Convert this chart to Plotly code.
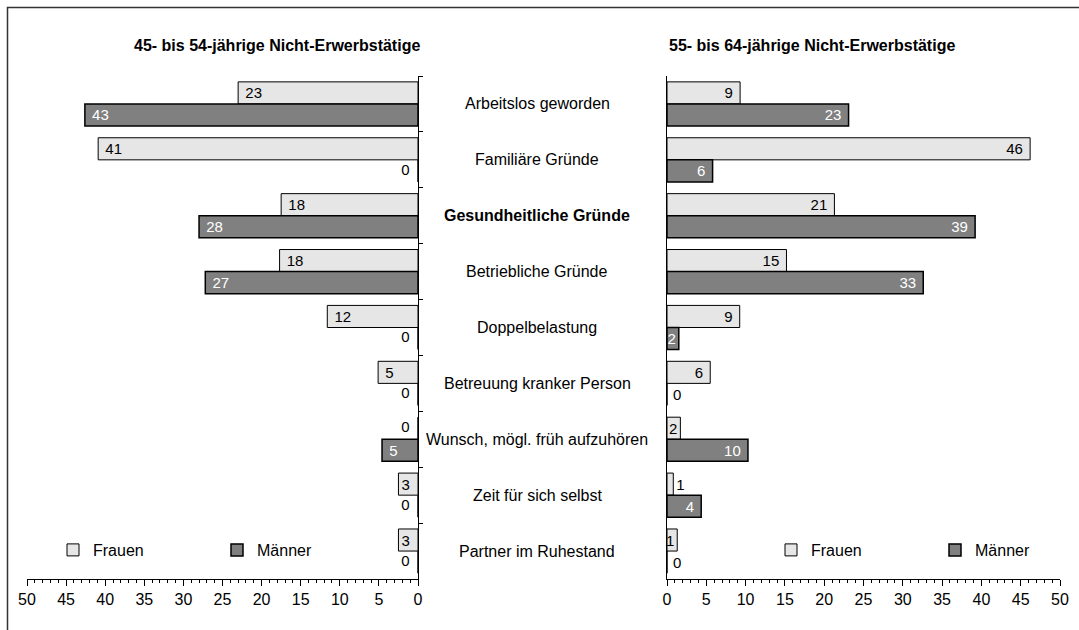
import math
import plotly.graph_objects as go

# ---------------- data ----------------
kategorien = [
    "Arbeitslos geworden",
    "Familiäre Gründe",
    "Gesundheitliche Gründe",
    "Betriebliche Gründe",
    "Doppelbelastung",
    "Betreuung kranker Person",
    "Wunsch, mögl. früh aufzuhören",
    "Zeit für sich selbst",
    "Partner im Ruhestand",
]
hervorgehoben = "Gesundheitliche Gründe"

frauen_45_54 = [23.0, 40.9, 17.5, 17.7, 11.6, 5.1, 0, 2.5, 2.5]
maenner_45_54 = [42.6, 0, 28.0, 27.2, 0, 0, 4.6, 0, 0]
frauen_55_64 = [9.3, 46.2, 21.3, 15.2, 9.25, 5.5, 1.7, 0.8, 1.3]
maenner_55_64 = [23.1, 5.8, 39.2, 32.6, 1.5, 0, 10.3, 4.35, 0]

titel_links = "45- bis 54-jährige Nicht-Erwerbstätige"
titel_rechts = "55- bis 64-jährige Nicht-Erwerbstätige"
serien = ["Frauen", "Männer"]
achsen_ticks = [0, 5, 10, 15, 20, 25, 30, 35, 40, 45, 50]

# ---------------- styling ----------------
W, H = 1079, 630
FONT = "Liberation Sans, Arial, sans-serif"
C_FRAUEN = "#e6e6e6"
C_MAENNER = "#808080"
NB = "\u00a0"
THIN = "\u2009"
GAP = 0.21


def px_x(p):
    return p / W


def px_y(p):
    return 1 - p / H


def gerundet(v):
    return str(int(math.floor(v + 0.5)))


def beschriftung(werte, seite):
    out = []
    for v in werte:
        s = gerundet(v)
        if v == 0:
            out.append(THIN + s if seite == "rechts" else "")
        elif v < 1:
            out.append(s)
        elif v < 3:
            out.append(s)
        else:
            out.append(NB + s if seite == "links" else s + NB)
    return out


def positionen(werte, seite):
    if seite == "links":
        return ["none" if v == 0 else "inside" for v in werte]
    return ["outside" if v < 1 else "inside" for v in werte]


fig = go.Figure()


def add_bar(werte, name, farbe, lw, xa, ya, seite, legend, textfarbe_innen, gruppe):
    fig.add_trace(go.Bar(
        y=kategorien, x=werte, orientation="h", name=name,
        marker=dict(color=farbe, line=dict(color="black", width=lw)),
        text=beschriftung(werte, seite),
        textposition=positionen(werte, seite),
        textangle=0,
        constraintext="none",
        insidetextanchor="end",
        insidetextfont=dict(family=FONT, size=15, color=textfarbe_innen),
        outsidetextfont=dict(family=FONT, size=15, color="black"),
        cliponaxis=False, offsetgroup=gruppe, alignmentgroup=seite,
        xaxis=xa, yaxis=ya, legend=legend, hoverinfo="skip",
    ))


add_bar(frauen_45_54, serien[0], C_FRAUEN, 1, "x", "y", "links", "legend", "black", "F")
add_bar(maenner_45_54, serien[1], C_MAENNER, 1.5, "x", "y", "links", "legend", "white", "M")
add_bar(frauen_55_64, serien[0], C_FRAUEN, 1, "x2", "y2", "rechts", "legend2", "black", "F")
add_bar(maenner_55_64, serien[1], C_MAENNER, 1.5, "x2", "y2", "rechts", "legend2", "white", "M")

# zero labels of the left (reversed) panel: placed at x = 0, left of the axis
for werte, gruppe in ((frauen_45_54, "F"), (maenner_45_54, "M")):
    fig.add_trace(go.Scatter(
        x=[0 if v == 0 else None for v in werte], y=kategorien,
        mode="text", text=[gerundet(v) + NB + NB if v == 0 else "" for v in werte],
        textposition="middle left", orientation="h",
        offsetgroup=gruppe, alignmentgroup="links",
        textfont=dict(family=FONT, size=15, color="black"),
        xaxis="x", yaxis="y", showlegend=False, cliponaxis=False, hoverinfo="skip",
    ))

xdom_l = [px_x(27), px_x(418)]
xdom_r = [px_x(667), px_x(1060)]
ydom = [px_y(579), px_y(76)]

xcommon = dict(
    tickvals=achsen_ticks, ticks="outside", ticklen=6, tickwidth=1, tickcolor="black",
    showline=True, linecolor="black", linewidth=1, showgrid=False, zeroline=False,
    tickfont=dict(family=FONT, size=16, color="black"),
    minor=dict(dtick=1, ticks="outside", ticklen=3, tickwidth=1, tickcolor="black"),
    fixedrange=True,
)

fig.update_layout(
    width=W, height=H,
    margin=dict(l=0, r=0, t=0, b=0, autoexpand=False),
    paper_bgcolor="white", plot_bgcolor="white",
    barmode="group", bargap=GAP, bargroupgap=0,
    scattermode="group", scattergap=GAP,
    uniformtext=dict(mode=False),
    font=dict(family=FONT, size=16, color="black"),
    xaxis=dict(domain=xdom_l, range=[50, 0], anchor="y", **xcommon),
    xaxis2=dict(domain=xdom_r, range=[0, 50], anchor="y2", **xcommon),
    yaxis=dict(domain=ydom, anchor="x", type="category", autorange="reversed",
               side="right", showline=True, linecolor="black", linewidth=1,
               showticklabels=False, ticks="outside", tickson="boundaries",
               ticklen=4, tickcolor="black", showgrid=False, fixedrange=True),
    yaxis2=dict(domain=ydom, anchor="x2", type="category", autorange="reversed",
                side="left", showline=True, linecolor="black", linewidth=1,
                showticklabels=False, ticks="", showgrid=False, fixedrange=True),
    legend=dict(orientation="h", x=px_x(53), y=px_y(550), xanchor="left", yanchor="middle",
                entrywidth=119, entrywidthmode="pixels", bgcolor="rgba(0,0,0,0)",
                font=dict(family=FONT, size=16, color="black"), traceorder="normal"),
    legend2=dict(orientation="h", x=px_x(771), y=px_y(550), xanchor="left", yanchor="middle",
                 entrywidth=119, entrywidthmode="pixels", bgcolor="rgba(0,0,0,0)",
                 font=dict(family=FONT, size=16, color="black"), traceorder="normal"),
    showlegend=True,
)

annotations = [
    dict(text="<b>" + titel_links + "</b>", xref="paper", yref="paper",
         x=px_x(422), y=px_y(46), xanchor="right", yanchor="middle", showarrow=False,
         font=dict(family=FONT, size=16, color="black")),
    dict(text="<b>" + titel_rechts + "</b>", xref="paper", yref="paper",
         x=px_x(667), y=px_y(46), xanchor="left", yanchor="middle", showarrow=False,
         font=dict(family=FONT, size=16, color="black")),
]
for k in kategorien:
    t = "<b>" + k + "</b>" if k == hervorgehoben else k
    annotations.append(dict(text=t, xref="paper", yref="y", x=px_x(537), y=k,
                            xanchor="center", yanchor="middle", showarrow=False,
                            font=dict(family=FONT, size=16, color="black")))
fig.update_layout(annotations=annotations)

fig.add_shape(type="rect", xref="paper", yref="paper",
              x0=px_x(7.5), x1=1.05, y0=-0.05, y1=px_y(7.5),
              line=dict(color="#333333", width=1.5), fillcolor="rgba(0,0,0,0)", layer="below")

fig.write_html("out.html", config={"displayModeBar": False},
               post_script="document.body.style.margin='0';")
